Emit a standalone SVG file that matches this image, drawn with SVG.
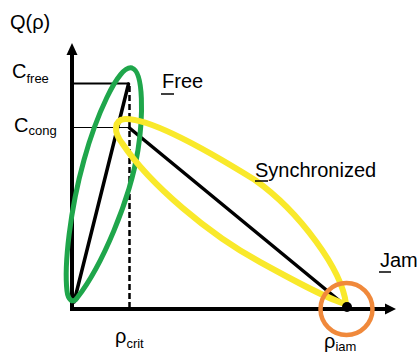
<svg xmlns="http://www.w3.org/2000/svg" width="420" height="353" viewBox="0 0 420 353">
  <defs>
    <style>
      text { font-family: "Liberation Sans", Arial, sans-serif; fill: #000; }
      .lbl { font-size: 20px; }
      .sub { font-size: 13px; }
      .axis { stroke: #000; stroke-width: 4; fill: none; }
      .curve { stroke: #000; stroke-width: 3.5; fill: none; stroke-linecap: round; }
      .guide { stroke: #000; fill: none; }
      .ul { stroke: #000; stroke-width: 1.5; }
      .phase { fill: none; stroke-linejoin: round; }
    </style>
  </defs>
  <rect width="420" height="353" fill="#fff"/>

  <!-- axes -->
  <g id="axes">
    <line class="axis" x1="72" y1="311" x2="72" y2="52"/>
    <polygon points="66.5,55 72,43 77.5,55" fill="#000"/>
    <line class="axis" x1="70" y1="309" x2="386" y2="309"/>
    <polygon points="385,303.5 396,309 385,314.5" fill="#000"/>
  </g>

  <!-- capacity guides and critical density -->
  <g id="guides">
    <line class="guide" stroke-width="2" x1="72" y1="83.5" x2="129" y2="83.5"/>
    <line class="guide" stroke-width="1.2" x1="72" y1="127.5" x2="129" y2="127.5"/>
    <line class="guide" stroke-width="2.5" stroke-dasharray="6,3" x1="129.5" y1="86" x2="129.5" y2="309"/>
  </g>

  <!-- fundamental diagram branches -->
  <g id="connectors">
    <line class="curve" x1="74" y1="302" x2="128.5" y2="84"/>
    <line class="curve" x1="129.5" y1="128" x2="347" y2="307"/>
  </g>

  <!-- phase regions -->
  <g id="free-phase">
    <path class="phase" stroke="#1fa64b" stroke-width="5"
          d="M77,298 C102,266 130,200 138,150 C143,118 144,72 132,68 C118,64 95,120 84,160 C70,210 64,265 67,291 C68,300 73,304 77,298 Z"/>
  </g>
  <g id="sync-phase">
    <path class="phase" stroke="#f9e92b" stroke-width="6"
          d="M346,304 C342,270 300,212 255,180 C210,152 150,118 125,119 C113,120 114,133 122,143 C150,185 210,235 260,262 C300,284 330,300 346,304 Z"/>
  </g>
  <g id="jam-phase">
    <circle cx="346.5" cy="309" r="26" fill="none" stroke="#f0893b" stroke-width="4.5"/>
    <circle cx="347" cy="307" r="5" fill="#000"/>
  </g>

  <!-- labels -->
  <g id="labels">
    <text class="lbl" x="10" y="29">Q(ρ)</text>
    <text class="lbl" x="12" y="78">C<tspan class="sub" dy="5">free</tspan></text>
    <text class="lbl" x="14" y="132">C<tspan class="sub" dy="3">cong</tspan></text>
    <text class="lbl" x="162" y="88" font-size="19">Free</text>
    <line class="ul" x1="161" y1="94" x2="174" y2="94"/>
    <text class="lbl" x="255" y="177">Synchronized</text>
    <line class="ul" x1="255" y1="181" x2="268" y2="181"/>
    <text class="lbl" x="380" y="267">Jam</text>
    <line class="ul" x1="379" y1="272" x2="391" y2="272"/>
    <text class="lbl" x="115" y="343">ρ<tspan class="sub" dy="5">crit</tspan></text>
    <text class="lbl" x="324" y="348">ρ<tspan class="sub" dy="3">iam</tspan></text>
  </g>
</svg>
